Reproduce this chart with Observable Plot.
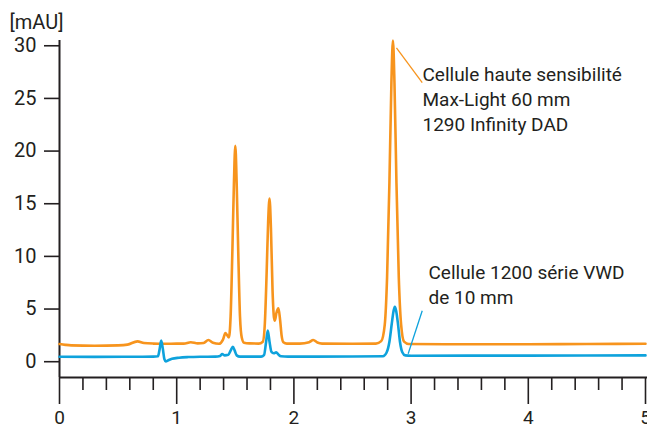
<!DOCTYPE html>
<html><head><meta charset="utf-8">
<script src="https://cdn.jsdelivr.net/npm/d3@7"></script>
<script src="https://cdn.jsdelivr.net/npm/@observablehq/plot@0.6"></script>
<style>body{margin:0;background:#fff} svg{display:block}</style>
</head><body><div id="chart"></div>
<script>
// Orange trace: Max-Light 60 mm high-sensitivity cell (1290 Infinity DAD)
const dadTime = [0.00,0.05,0.10,0.30,0.50,0.58,0.665,0.72,0.80,0.90,1.00,1.06,1.12,1.18,1.23,1.27,1.31,1.36,1.395,1.416,1.445,1.46,1.475,1.488,1.50,1.512,1.525,1.54,1.555,1.575,1.62,1.70,1.735,1.752,1.767,1.78,1.792,1.804,1.818,1.83,1.838,1.85,1.868,1.882,1.895,1.91,1.94,2.05,2.13,2.165,2.20,2.24,2.50,2.70,2.745,2.775,2.795,2.815,2.832,2.845,2.858,2.875,2.895,2.915,2.94,2.98,3.50,4.00,4.50,5.00];
const dadSignal = [1.68,1.60,1.55,1.52,1.55,1.62,1.93,1.78,1.72,1.70,1.72,1.72,1.85,1.74,1.78,2.06,1.80,1.70,2.10,2.72,2.30,4.3,10.5,16.8,20.5,16.8,10.5,4.3,2.3,1.8,1.74,1.72,1.9,3.6,8.3,13.2,15.5,12.7,6.7,4.2,3.9,4.6,5.07,4.0,2.5,1.85,1.72,1.72,1.85,2.06,1.82,1.72,1.70,1.72,1.95,3.5,8.0,17.0,26.5,30.5,26.5,17.0,8.0,3.5,1.9,1.68,1.66,1.66,1.68,1.70];
// Blue trace: 1200 series VWD 10 mm cell
const vwdTime = [0.00,0.30,0.60,0.80,0.84,0.853,0.868,0.882,0.895,0.907,0.925,0.96,1.02,1.10,1.20,1.33,1.37,1.388,1.41,1.44,1.462,1.479,1.495,1.512,1.54,1.72,1.745,1.762,1.777,1.792,1.808,1.828,1.849,1.868,1.89,1.95,2.50,2.76,2.79,2.815,2.835,2.85,2.861,2.873,2.888,2.905,2.925,2.95,3.00,4.00,5.00];
const vwdSignal = [0.47,0.46,0.47,0.48,0.52,1.1,2.0,1.2,0.25,0.03,0.12,0.28,0.38,0.44,0.47,0.48,0.55,0.73,0.60,0.65,1.1,1.42,1.05,0.60,0.48,0.48,0.62,1.8,2.95,1.9,0.95,0.80,0.89,0.68,0.52,0.48,0.50,0.52,0.85,1.9,3.6,4.8,5.22,4.8,3.6,1.9,0.9,0.6,0.57,0.58,0.60];

const yTicks = [0, 5, 10, 15, 20, 25, 30];
const xMajorTicks = [0, 1, 2, 3, 4, 5];
const xMinorTicks = [0.2,0.4,0.6,0.8,1.2,1.4,1.6,1.8,2.2,2.4,2.6,2.8,3.2,3.4,3.6,3.8,4.2,4.4,4.6,4.8];
const unitLabel = "[mAU]";
const dadLabel = "Cellule haute sensibilité\nMax-Light 60 mm\n1290 Infinity DAD";
const vwdLabel = "Cellule 1200 série VWD\nde 10 mm";

const dad = dadTime.map((t, i) => ({t, v: dadSignal[i]}));
const vwd = vwdTime.map((t, i) => ({t, v: vwdSignal[i]}));

const orange = "#f7941d";
const blue = "#0ea2dc";
const ink = "#231f20";
const font = "Roboto, 'Liberation Sans', sans-serif";

const chart = Plot.plot({
  width: 647, height: 429,
  marginLeft: 59, marginRight: 2, marginTop: 40, marginBottom: 52,
  style: {fontFamily: font, fontSize: "20px", color: ink, background: "#fff"},
  x: {domain: [0, 5]},
  y: {domain: [-1.5, 30.5]},
  marks: [
    Plot.axisY({ticks: yTicks, tickSize: 15, tickPadding: 8, tickFormat: d3.format("d"), label: null, strokeWidth: 1.6, fontSize: 20}),
    Plot.axisX({ticks: xMinorTicks, tickSize: 13, tickFormat: () => "", label: null, strokeWidth: 1.6}),
    Plot.axisX({ticks: xMajorTicks, tickSize: 27, tickPadding: 6, tickFormat: d3.format("d"), label: null, strokeWidth: 1.6, fontSize: 19}),
    Plot.ruleX([0], {stroke: ink, strokeWidth: 2}),
    Plot.ruleY([-1.5], {x1: 0, x2: 5.05, stroke: ink, strokeWidth: 2}),
    Plot.line(dad, {x: "t", y: "v", stroke: orange, strokeWidth: 2.6, curve: "monotone-x"}),
    Plot.line(vwd, {x: "t", y: "v", stroke: blue, strokeWidth: 2.6, curve: "monotone-x"}),
    Plot.link([0], {x1: 2.875, y1: 29.8, x2: 3.095, y2: 26.5, stroke: orange, strokeWidth: 1.3}),
    Plot.link([0], {x1: 3.095, y1: 4.84, x2: 2.975, y2: 0.76, stroke: blue, strokeWidth: 1.3}),
    Plot.text([dadLabel], {x: 3.097, y: 25.05, text: d => d, textAnchor: "start", lineAnchor: "middle", lineHeight: 1.32, fontSize: 19, fill: ink}),
    Plot.text([vwdLabel], {x: 3.148, y: 7.4, text: d => d, textAnchor: "start", lineAnchor: "middle", lineHeight: 1.32, fontSize: 19, fill: ink}),
    Plot.text([unitLabel], {frameAnchor: "top-left", dx: -50, dy: -18, text: d => d, textAnchor: "start", lineAnchor: "middle", fontSize: 20, fill: ink})
  ]
});
document.getElementById("chart").appendChild(chart);
</script>
</body></html>
